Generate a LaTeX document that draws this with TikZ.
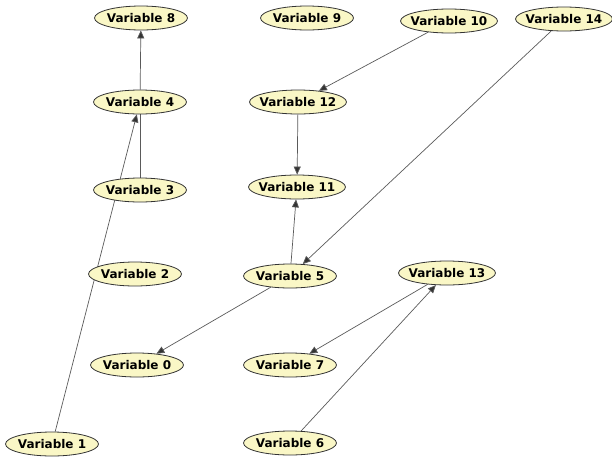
\documentclass[tikz,border=0pt]{standalone}
\usepackage{fontspec}
\setmainfont{DejaVu Sans}
\usepackage{xcolor,tikz}
\usetikzlibrary{arrows.meta,shapes.geometric,backgrounds}
\definecolor{nodefill}{HTML}{FAF7C6}
\definecolor{nodeline}{HTML}{333333}
\definecolor{edgegray}{HTML}{5A5A5A}
\tikzset{var/.style={ellipse,draw=nodeline,fill=nodefill,line width=0.8pt,
  minimum width=93pt,minimum height=24pt,inner xsep=-4pt,inner ysep=0pt,
  font=\fontsize{12}{14}\selectfont\bfseries},
  link/.style={draw=edgegray,line width=0.7pt},
  arrow/.style={link,-{Triangle[length=8pt,width=7pt,fill=nodeline]}}}

\begin{document}
\begin{tikzpicture}[x=1pt,y=-1pt]
\useasboundingbox (0,0) rectangle (612,466);
\node[var] (v8) at (141,18) {Variable 8};
\node[var] (v9) at (307,18) {Variable 9};
\node[var] (v10) at (449,21) {Variable 10};
\node[var] (v14) at (564,19) {Variable 14};
\node[var] (v4) at (140,102) {Variable 4};
\node[var] (v12) at (298,102) {Variable 12};
\node[var] (v3) at (140,190) {Variable 3};
\node[var] (v11) at (297,187) {Variable 11};
\node[var] (v2) at (135,274) {Variable 2};
\node[var] (v5) at (290,276) {Variable 5};
\node[var] (v13) at (447,273) {Variable 13};
\node[var] (v0) at (137,365) {Variable 0};
\node[var] (v7) at (290,365) {Variable 7};
\node[var] (v1) at (52,444) {Variable 1};
\node[var] (v6) at (290,443) {Variable 6};
\begin{pgfonlayer}{background}
\draw[arrow] (v4)--(v8);
\draw[link] (v3)--(v4);
\draw[arrow] (v1)--(v4);
\draw[arrow] (v10)--(v12);
\draw[arrow] (v12)--(v11);
\draw[arrow] (v5)--(v11);
\draw[arrow] (v14)--(v5);
\draw[arrow] (v5)--(v0);
\draw[arrow] (v13)--(v7);
\draw[arrow] (v6)--(v13);
\end{pgfonlayer}
\end{tikzpicture}
\end{document}
